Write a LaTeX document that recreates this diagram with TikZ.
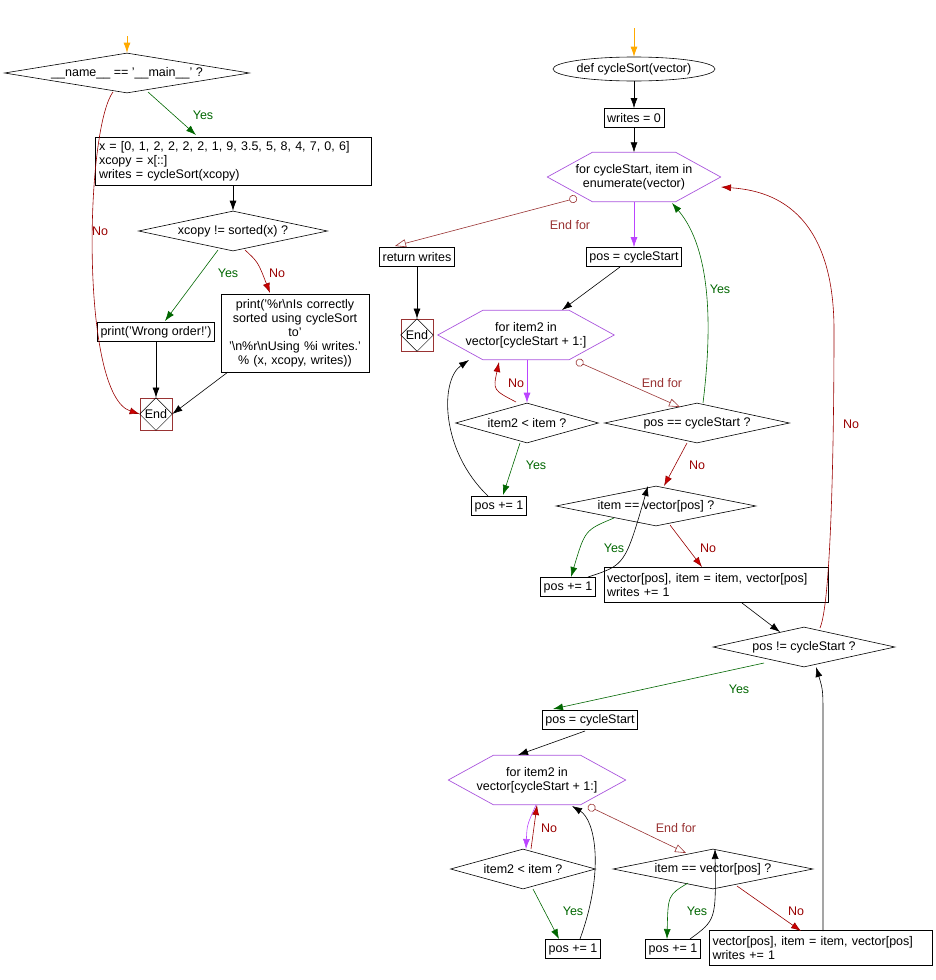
\documentclass[tikz,border=0pt]{standalone}
\usepackage{fontspec}
\setmainfont{Liberation Sans}
\usetikzlibrary{shapes.geometric,arrows.meta}
\definecolor{gr}{HTML}{006600}
\definecolor{rd}{HTML}{CC0000}
\definecolor{rdl}{HTML}{990000}
\definecolor{brn}{HTML}{993333}
\definecolor{pur}{HTML}{AA55DD}
\definecolor{pl}{HTML}{BB44FF}
\definecolor{org}{HTML}{FFAA00}
\begin{document}
\begin{tikzpicture}[x=1pt,y=-1pt,
  every node/.style={font=\fontsize{12.5}{14}\selectfont},
  box/.style={draw,line width=0.7pt,inner sep=3pt,minimum height=19pt},
  dia/.style={draw,line width=0.6pt,diamond,inner sep=0pt},
  hexn/.style={inner sep=0pt,align=center},
  ar/.style={line width=0.6pt,-{Latex[length=10pt,width=7pt]}},
  yes/.style={ar,gr},
  no/.style={ar,rdl,-{Latex[length=10pt,width=7pt,fill=rd]}},
  endf/.style={line width=0.6pt,brn,{Circle[open,length=8pt,width=8pt]}-{Triangle[open,length=11pt,width=8pt]}},
  pa/.style={ar,pl},
  ly/.style={text=gr},
  ln/.style={text=rdl},
  le/.style={text=brn},
  endn/.style={draw=brn,line width=0.7pt,minimum width=32pt,minimum height=32pt,inner sep=0pt}
]
\useasboundingbox (0,0) rectangle (935,980);
\newcommand{\hexdraw}[2]{\draw[pur,line width=0.7pt] ([xshift=#2]#1.north west) -- ([xshift=-#2]#1.north east) -- (#1.east) -- ([xshift=-#2]#1.south east) -- ([xshift=#2]#1.south west) -- (#1.west) -- cycle;}
\newcommand{\xdiamin}[1]{\draw[line width=0.5pt] (#1.north) -- (#1.east) -- (#1.south) -- (#1.west) -- cycle;}

% ---------- left ----------
\coordinate (s1) at (127,36);
\node[dia,minimum width=245pt,minimum height=40pt,aspect=6] (D1) at (127,73) {\_\_name\_\_ == '\_\_main\_\_' ?};
\node[box,text width=268pt,align=left,minimum height=48pt,inner sep=4pt] (B1) at (233,161) {x = [0, 1, 2, 2, 2, 2, 1, 9, 3.5, 5, 8, 4, 7, 0, 6]\\xcopy = x[::]\\writes = cycleSort(xcopy)};
\node[dia,minimum width=189pt,minimum height=40pt,aspect=4.7] (D2) at (233,231) {xcopy != sorted(x) ?};
\node[box] (B2) at (156,332) {print('Wrong order!')};
\node[box,align=center,text width=146pt,minimum height=78pt,inner sep=1pt] (B3) at (295,333) {print('\%r\textbackslash nIs correctly\\sorted using cycleSort\\to'\\'\textbackslash n\%r\textbackslash nUsing \%i writes.'\\\% (x, xcopy, writes))};
\node[endn] (E1) at (156,414) {};
\xdiamin{E1}
\node at (E1) {End};

\draw[ar,org] (s1) -- (D1.north);
\draw[yes] ([shift={(21,19)}]D1.center) -- ([shift={(-37,-26)}]B1.center);
\node[ly] at (203,115) {Yes};
\draw[no] ([shift={(-14,19)}]D1.center) .. controls (85,130) and (80,395) .. (E1.west);
\node[ln] at (100,231) {No};
\draw[ar] (B1.south) -- (D2.north);
\draw[yes] ([shift={(-15,19)}]D2.center) -- ([shift={(9,-11)}]B2.center);
\node[ly] at (228,273) {Yes};
\draw[no] ([shift={(12,19)}]D2.center) .. controls (258,262) .. ([shift={(-25,-40)}]B3.center);
\node[ln] at (277,273) {No};
\draw[ar] (B2.south) -- (E1.north);
\draw[ar] ([shift={(-67,39)}]B3.center) -- (E1.east);

% ---------- right ----------
\coordinate (s2) at (634,28);
\node[draw,ellipse,line width=0.6pt,minimum width=136pt,minimum height=24pt,inner sep=0pt] (EL) at (634,69) {def cycleSort(vector)};
\node[box] (W0) at (634,118) {writes = 0};
\node[hexn,minimum width=173pt,minimum height=49pt] (H1) at (634,177) {for cycleStart, item in\\enumerate(vector)};
\hexdraw{H1}{45}
\node[box] (R1) at (417,257) {return writes};
\node[endn] (E2) at (417,335) {};
\xdiamin{E2}
\node at (E2) {End};
\node[box] (P1) at (634,257) {pos = cycleStart};
\node[hexn,minimum width=176pt,minimum height=49pt] (H2) at (526,335) {for item2 in\\vector[cycleStart + 1:]};
\hexdraw{H2}{45}
\node[dia,minimum width=143pt,minimum height=40pt,aspect=3.6] (D3) at (527,423) {item2 < item ?};
\node[dia,minimum width=185pt,minimum height=40pt,aspect=4.6] (D4) at (697,423) {pos == cycleStart ?};
\node[box] (PI1) at (499,506) {pos += 1};
\node[dia,minimum width=200pt,minimum height=40pt,aspect=5] (D5) at (656,506) {item == vector[pos] ?};
\node[box] (PI2) at (568,587) {pos += 1};
\node[box,align=left,text width=218pt,minimum height=35pt] (B4) at (716,585) {vector[pos], item = item, vector[pos]\\writes += 1};
\node[dia,minimum width=182pt,minimum height=40pt,aspect=4.5] (D6) at (804,647) {pos != cycleStart ?};
\node[box] (P2) at (590,720) {pos = cycleStart};
\node[hexn,minimum width=177pt,minimum height=49pt] (H3) at (537,780) {for item2 in\\vector[cycleStart + 1:]};
\hexdraw{H3}{45}
\node[dia,minimum width=145pt,minimum height=40pt,aspect=3.6] (D7) at (523,869) {item2 < item ?};
\node[dia,minimum width=200pt,minimum height=40pt,aspect=5] (D8) at (713,869) {item == vector[pos] ?};
\node[box] (PI3) at (573,949) {pos += 1};
\node[box] (PI4) at (673,949) {pos += 1};
\node[box,align=left,text width=217pt,minimum height=35pt] (B5) at (821,948) {vector[pos], item = item, vector[pos]\\writes += 1};

\draw[ar,org] (s2) -- (EL.north);
\draw[ar] (EL.south) -- (W0.north);
\draw[ar] (W0.south) -- (H1.north);
\draw[pa] (H1.south) -- (P1.north);
\draw[endf] ([shift={(-57,21)}]H1.center) -- ([shift={(-22,-11)}]R1.center);
\node[le] at (570,225) {End for};
\draw[ar] (R1.south) -- (E2.north);
\draw[ar] ([shift={(-14,10)}]P1.center) -- ([shift={(36,-25)}]H2.center);
\draw[pa] ([xshift=1]H2.south) -- (D3.north);
\draw[no] ([shift={(-11,-21)}]D3.center) .. controls (493,390) .. ([shift={(-27,27)}]H2.center);
\node[ln] at (516,383) {No};
\draw[endf] ([shift={(50,26)}]H2.center) -- ([shift={(-17,-16)}]D4.center);
\node[le] at (662,383) {End for};
\draw[yes] ([shift={(-7,20)}]D3.center) -- ([shift={(4,-11)}]PI1.center);
\node[ly] at (536,465) {Yes};
\draw[ar] ([shift={(-11,-10)}]PI1.center) .. controls (440,450) and (440,380) .. ([shift={(-57,25)}]H2.center);
\draw[yes] ([shift={(6,-20)}]D4.center) .. controls (712,330) and (712,250) .. ([shift={(38,26)}]H1.center);
\node[ly] at (720,289) {Yes};
\draw[no] ([shift={(-10,20)}]D4.center) -- ([shift={(8,-20)}]D5.center);
\node[ln] at (697,465) {No};
\draw[yes] ([shift={(-42,12)}]D5.center) .. controls (585,530) .. ([shift={(3,-10)}]PI2.center);
\node[ly] at (614,548) {Yes};
\draw[ar] ([shift={(20,-10)}]PI2.center) .. controls (625,565) .. ([shift={(-8,-20)}]D5.center) ;
\draw[no] ([shift={(14,19)}]D5.center) -- ([shift={(-14,-18)}]B4.center);
\node[ln] at (708,548) {No};
\draw[ar] ([shift={(26,18)}]B4.center) -- ([shift={(-24,-15)}]D6.center);
\draw[no] ([shift={(16,-19)}]D6.center) .. controls (832,600) and (834,420) .. (834,330) .. controls (834,200) and (760,190) .. ([shift={(87,10)}]H1.center);
\node[ln] at (851,424) {No};
\draw[yes] ([shift={(-40,16)}]D6.center) -- ([shift={(-37,-11)}]P2.center);
\node[ly] at (739,689) {Yes};
\draw[ar] ([shift={(-5,11)}]P2.center) -- ([shift={(-19,-25)}]H3.center);
\draw[pa] ([shift={(-1,25)}]H3.center) .. controls (527,825) .. ([shift={(3,-20)}]D7.center);
\draw[no] ([shift={(8,-20)}]D7.center) -- ([shift={(0,25)}]H3.center);
\node[ln] at (549,828) {No};
\draw[endf] ([shift={(51,26)}]H3.center) -- ([shift={(-27,-16)}]D8.center);
\node[le] at (676,828) {End for};
\draw[yes] ([shift={(10,20)}]D7.center) -- ([shift={(-14,-10)}]PI3.center);
\node[ly] at (573,911) {Yes};
\draw[ar] ([shift={(7,-10)}]PI3.center) .. controls (605,870) and (595,820) .. ([shift={(35,26)}]H3.center);
\draw[yes] ([shift={(-25,14)}]D8.center) .. controls (668,895) .. ([shift={(-6,-10)}]PI4.center);
\node[ly] at (697,911) {Yes};
\draw[ar] ([shift={(17,-10)}]PI4.center) .. controls (716,920) .. ([shift={(2,-20)}]D8.center);
\draw[no] ([shift={(24,17)}]D8.center) -- ([shift={(-20,-17)}]B5.center);
\node[ln] at (796,911) {No};
\draw[ar] ([shift={(2,-17)}]B5.center) -- (823,720) .. controls (823,690) .. ([shift={(12,20)}]D6.center);
\end{tikzpicture}
\end{document}
